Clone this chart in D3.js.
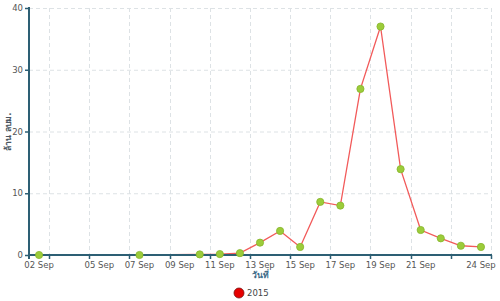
<!DOCTYPE html>
<html>
<head>
<meta charset="utf-8">
<script src="https://cdn.jsdelivr.net/npm/d3@7"></script>
<style>
html,body{margin:0;padding:0;background:#fff;}
svg{display:block;font-family:"DejaVu Sans",Verdana,sans-serif;}
</style>
</head>
<body>
<svg id="chart" width="500" height="301"></svg>
<script>
// ---- data ----
const categories = ["2015-09-02","2015-09-03","2015-09-04","2015-09-05","2015-09-06","2015-09-07","2015-09-08","2015-09-09","2015-09-10","2015-09-11","2015-09-12","2015-09-13","2015-09-14","2015-09-15","2015-09-16","2015-09-17","2015-09-18","2015-09-19","2015-09-20","2015-09-21","2015-09-22","2015-09-23","2015-09-24"];
const pointDates = ["2015-09-02","2015-09-07","2015-09-10","2015-09-11","2015-09-12","2015-09-13","2015-09-14","2015-09-15","2015-09-16","2015-09-17","2015-09-18","2015-09-19","2015-09-20","2015-09-21","2015-09-22","2015-09-23","2015-09-24"];
const values2015 = [0, 0, 0.1, 0.15, 0.3, 2.0, 3.9, 1.3, 8.6, 8.0, 26.9, 37.0, 13.9, 4.05, 2.7, 1.5, 1.3];
const tickLabelDates = ["2015-09-02","2015-09-05","2015-09-07","2015-09-09","2015-09-11","2015-09-13","2015-09-15","2015-09-17","2015-09-19","2015-09-21","2015-09-24"];
const gridDates = ["2015-09-03","2015-09-05","2015-09-07","2015-09-09","2015-09-11","2015-09-13","2015-09-15","2015-09-17","2015-09-19","2015-09-21","2015-09-23"];
const yTicks = [0, 10, 20, 30, 40];
const seriesName = "2015";
const yTitle = "ล้าน ลบม.";
const xTitle = "วันที่";

// ---- layout ----
const mL = 29, mR = 491, mT = 8, mB = 255;
const svg = d3.select("#chart");
const parse = d3.timeParse("%Y-%m-%d");
const fmt = d3.timeFormat("%d %b");

const x = d3.scaleBand().domain(categories).range([mL, mR]).padding(0);
const xc = d => x(d) + x.bandwidth() / 2;
const y = d3.scaleLinear().domain([0, 40]).range([mB, mT]);

const axisColor = "#2d5f74";
const textColor = "#555";

// grid
const grid = svg.append("g");
grid.selectAll("line.h").data(yTicks.filter(v => v > 0)).join("line")
  .attr("x1", mL).attr("x2", mR)
  .attr("y1", d => y(d) + 0.5).attr("y2", d => y(d) + 0.5)
  .attr("stroke", "#dde2e5").attr("stroke-dasharray", "4,3");
const gridX = gridDates.map(d => x(d)).concat([mR]);
grid.selectAll("line.v").data(gridX).join("line")
  .attr("x1", d => Math.round(d) + 0.5).attr("x2", d => Math.round(d) + 0.5)
  .attr("y1", mT).attr("y2", mB)
  .attr("stroke", "#dde2e5").attr("stroke-dasharray", "4,3");

// line
const pts = pointDates.map((d, i) => ({d, v: values2015[i]}));
svg.append("path").datum(pts)
  .attr("fill", "none").attr("stroke", "#f25a5a").attr("stroke-width", 1.3)
  .attr("d", d3.line().x(p => xc(p.d)).y(p => y(p.v)));

// y axis
const yAxis = d3.axisLeft(y).tickValues(yTicks).tickSize(4).tickPadding(2);
const gy = svg.append("g").attr("transform", `translate(${mL},0)`).call(yAxis);
gy.select(".domain").remove();
gy.selectAll(".tick line").attr("stroke", axisColor).attr("stroke-width", 1.5);
gy.selectAll(".tick text").attr("fill", textColor).attr("font-size", 8.5).attr("font-family", "DejaVu Sans, sans-serif");

// x axis
const gx = svg.append("g").attr("transform", `translate(0,${mB})`);
gx.selectAll("line.tk").data(gridX).join("line")
  .attr("x1", d => Math.round(d) + 0.5).attr("x2", d => Math.round(d) + 0.5)
  .attr("y1", 0).attr("y2", 4).attr("stroke", axisColor).attr("stroke-width", 1.5);
gx.selectAll("text.lb").data(tickLabelDates).join("text")
  .attr("x", d => xc(d)).attr("y", 13)
  .attr("text-anchor", "middle").attr("fill", textColor).attr("font-size", 8.5)
  .text(d => fmt(parse(d)));

// axis lines
svg.append("line").attr("x1", mL).attr("x2", mL).attr("y1", mT - 1).attr("y2", mB + 4)
  .attr("stroke", axisColor).attr("stroke-width", 2);
svg.append("line").attr("x1", mL).attr("x2", mR + 1).attr("y1", mB).attr("y2", mB)
  .attr("stroke", axisColor).attr("stroke-width", 2);

// points
svg.append("g").selectAll("circle").data(pts).join("circle")
  .attr("cx", p => xc(p.d)).attr("cy", p => y(p.v)).attr("r", 3.6)
  .attr("fill", "#9ccc3a").attr("stroke", "#86b52c").attr("stroke-width", 0.8);

// titles
svg.append("text").attr("transform", `translate(11,${(mT + mB) / 2}) rotate(-90)`)
  .attr("text-anchor", "middle").attr("font-size", 8.5).attr("font-weight", "bold")
  .attr("fill", "#4a5560").text(yTitle);
svg.append("text").attr("x", (mL + mR) / 2).attr("y", 278)
  .attr("text-anchor", "middle").attr("font-size", 8.5).attr("font-weight", "bold")
  .attr("fill", "#3c6a88").text(xTitle);

// legend
const lg = svg.append("g").attr("transform", "translate(239,293)");
lg.append("circle").attr("r", 5).attr("fill", "#e60000").attr("stroke", "#7a1010").attr("stroke-width", 0.8);
lg.append("text").attr("x", 8).attr("y", 3).attr("font-size", 8.5).attr("fill", "#444").text(seriesName);
</script>
</body>
</html>
